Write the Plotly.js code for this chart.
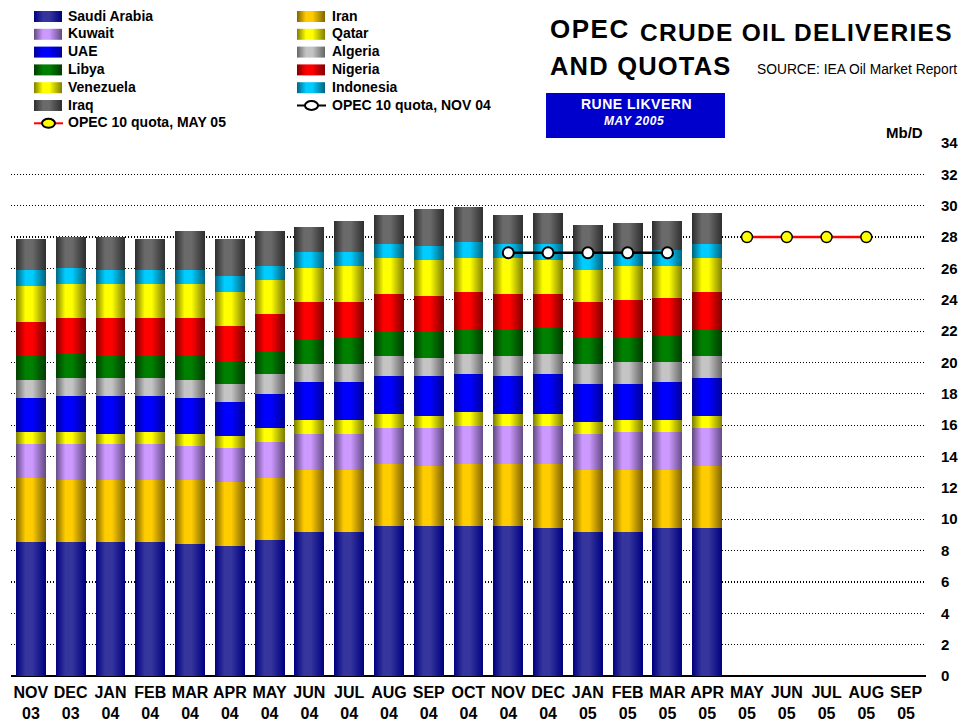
<!DOCTYPE html>
<html>
<head>
<meta charset="utf-8">
<script src="https://cdn.plot.ly/plotly-3.0.1.min.js"></script>
<style>
    body { margin: 0; background: #fff; }
    #chart { width: 973px; height: 724px; }
</style>
</head>
<body>
<div id="chart"></div>
<svg width="0" height="0" style="position:absolute"><defs id="gradDefs"></defs></svg>
<script>
// OPEC crude oil deliveries and quotas, Mb/D

const months = ['NOV','DEC','JAN','FEB','MAR','APR','MAY','JUN','JUL','AUG','SEP','OCT',
                'NOV','DEC','JAN','FEB','MAR','APR','MAY','JUN','JUL','AUG','SEP'];
const years  = ['03','03','04','04','04','04','04','04','04','04','04','04',
                '04','04','05','05','05','05','05','05','05','05','05'];

// deliveries NOV 03 - APR 05
const saudi     = [8.54, 8.54, 8.54, 8.54, 8.41, 8.28, 8.67, 9.18, 9.18, 9.56, 9.56, 9.56, 9.56, 9.43, 9.18, 9.18, 9.43, 9.43];
const iran      = [4.08, 3.96, 3.96, 3.96, 4.09, 4.09, 3.95, 3.96, 3.96, 3.96, 3.83, 3.96, 3.96, 4.09, 3.96, 3.96, 3.71, 3.96];
const kuwait    = [2.18, 2.30, 2.30, 2.30, 2.17, 2.17, 2.30, 2.29, 2.29, 2.30, 2.43, 2.42, 2.42, 2.42, 2.29, 2.42, 2.42, 2.43];
const qatar     = [0.76, 0.76, 0.63, 0.76, 0.76, 0.77, 0.90, 0.90, 0.90, 0.89, 0.76, 0.90, 0.77, 0.77, 0.77, 0.77, 0.77, 0.76];
const uae       = [2.17, 2.30, 2.43, 2.30, 2.30, 2.17, 2.17, 2.42, 2.42, 2.43, 2.56, 2.43, 2.43, 2.56, 2.43, 2.30, 2.42, 2.43];
const algeria   = [1.15, 1.15, 1.15, 1.15, 1.15, 1.15, 1.28, 1.15, 1.15, 1.27, 1.15, 1.27, 1.27, 1.27, 1.27, 1.40, 1.28, 1.40];
const libya     = [1.56, 1.53, 1.43, 1.43, 1.57, 1.42, 1.42, 1.56, 1.69, 1.56, 1.68, 1.56, 1.69, 1.68, 1.69, 1.56, 1.68, 1.69];
const nigeria   = [2.15, 2.30, 2.40, 2.40, 2.40, 2.28, 2.41, 2.40, 2.27, 2.40, 2.28, 2.40, 2.27, 2.15, 2.27, 2.40, 2.41, 2.40];
const venezuela = [2.30, 2.17, 2.17, 2.17, 2.18, 2.17, 2.17, 2.17, 2.30, 2.30, 2.30, 2.17, 2.30, 2.18, 2.05, 2.17, 2.04, 2.17];
const indonesia = [1.02, 1.02, 0.90, 0.90, 0.89, 1.02, 0.89, 1.03, 0.90, 0.90, 0.89, 1.02, 0.90, 1.02, 1.02, 0.90, 1.02, 0.90];
const iraq      = [1.98, 1.98, 2.10, 1.98, 2.49, 2.37, 2.24, 1.59, 1.98, 1.85, 2.36, 2.24, 1.85, 1.98, 1.85, 1.85, 1.86, 1.98];

// quotas (OPEC 10)
const quotaNov04Months = [12, 13, 14, 15, 16];
const quotaNov04 = [27.0, 27.0, 27.0, 27.0, 27.0];
const quotaMay05Months = [18, 19, 20, 21];
const quotaMay05 = [28.0, 28.0, 28.0, 28.0];

const seriesNames = ['Saudi Arabia','Iran','Kuwait','Qatar','UAE','Algeria',
                     'Libya','Nigeria','Venezuela','Indonesia','Iraq'];
const seriesValues = [saudi, iran, kuwait, qatar, uae, algeria, libya, nigeria, venezuela, indonesia, iraq];

// light (middle of the bar) and dark (edges) shades
const lightColors = ['#35359d','#ffcc00','#cc99ff','#ffff00','#0000ff','#c4c4c4',
                     '#008000','#ff0000','#ffff00','#00ccff','#6a6a6a'];
const darkColors  = ['#000080','#7f6400','#634a85','#7f7f00','#000099','#666666',
                     '#003c00','#800000','#7f7f00','#006480','#2e2e2e'];
const midColors   = ['#26268f','#e0b400','#b388e6','#e6e600','#0000e6','#aaaaaa',
                     '#007000','#e60000','#e6e600','#00b5e6','#575757'];

const FONT = 'Liberation Sans, Arial, sans-serif';

// plot area in pixels
const L = 11, T = 143, W = 915, H = 533;
function px(x) { return (x - L) / W; }
function py(y) { return (T + H - y) / H; }

const labels = months.map((m, i) => m + '<br>' + years[i]);

const traces = [];
seriesNames.forEach((name, i) => {
    traces.push({
        type: 'bar',
        name: name,
        x: labels.slice(0, seriesValues[i].length),
        y: seriesValues[i],
        marker: { color: midColors[i], line: { width: 0 } },
        hoverinfo: 'name+y'
    });
});

traces.push({
    type: 'scatter',
    mode: 'lines+markers',
    name: 'OPEC 10 quota, NOV 04',
    x: quotaNov04Months.map(i => labels[i]),
    y: quotaNov04,
    line: { color: '#000000', width: 2.5 },
    marker: { size: 11, color: '#ffffff', line: { color: '#000000', width: 2 } }
});
traces.push({
    type: 'scatter',
    mode: 'lines+markers',
    name: 'OPEC 10 quota, MAY 05',
    x: quotaMay05Months.map(i => labels[i]),
    y: quotaMay05,
    line: { color: '#ff0000', width: 2.5 },
    marker: { size: 11, color: '#ffff00', line: { color: '#000000', width: 1.5 } }
});

// legend built by hand: two columns, row by row
const shapes = [];
const annotations = [];
const swatchIndex = [];
const legendNames = seriesNames.concat(['OPEC 10 quota, NOV 04', 'OPEC 10 quota, MAY 05']);
const colX = [34, 297];
const textX = [67, 331];
legendNames.forEach((name, i) => {
    const row = Math.floor(i / 2);
    const col = i % 2;
    const cy = 16.5 + row * 17.8;
    if (i < seriesNames.length) {
        swatchIndex.push(shapes.length);
        shapes.push({
            type: 'rect', xref: 'paper', yref: 'paper',
            x0: px(colX[col]), x1: px(colX[col] + 28),
            y0: py(cy - 5.5), y1: py(cy + 5.5),
            fillcolor: midColors[i], line: { width: 0 }
        });
    } else {
        const q = traces[i];
        shapes.push({
            type: 'line', xref: 'paper', yref: 'paper',
            x0: px(colX[col]), x1: px(colX[col] + 29),
            y0: py(cy), y1: py(cy),
            line: { color: q.line.color, width: 2 }
        });
        shapes.push({
            type: 'circle', xref: 'paper', yref: 'paper',
            x0: px(colX[col] + 8), x1: px(colX[col] + 21),
            y0: py(cy - 4.5), y1: py(cy + 4.5),
            fillcolor: q.marker.color, line: { color: '#000000', width: 2 }
        });
    }
    annotations.push({
        xref: 'paper', yref: 'paper', x: px(textX[col] - 1), y: py(cy - 1),
        xanchor: 'left', yanchor: 'middle', showarrow: false,
        text: name,
        font: { family: FONT, size: 14, weight: 'bold', color: '#000' }
    });
});

// author box
shapes.push({
    type: 'rect', xref: 'paper', yref: 'paper',
    x0: px(546), x1: px(725), y0: py(93), y1: py(138),
    fillcolor: '#0000cc', line: { width: 0 }
});

function note(text, x, y, size, anchor, extra) {
    return Object.assign({
        xref: 'paper', yref: 'paper', x: px(x), y: py(y),
        xanchor: anchor, yanchor: 'middle', showarrow: false, text: text,
        font: { family: FONT, size: size, weight: 'bold', color: '#000' }
    }, extra || {});
}

annotations.push(note("<span style='letter-spacing:1.5px'>OPEC</span>", 548, 29, 26, 'left'));
annotations.push(note("<span style='letter-spacing:1.3px'>CRUDE OIL DELIVERIES</span>", 638, 33, 24.5, 'left'));
annotations.push(note("<span style='letter-spacing:1.2px'>AND QUOTAS</span>", 548, 66, 25.5, 'left'));
annotations.push(note('SOURCE: IEA Oil Market Report', 755, 70, 13.8, 'left',
    { font: { family: FONT, size: 13.8, weight: 'normal', color: '#000' } }));
annotations.push(note("<span style='letter-spacing:0.5px'>RUNE LIKVERN</span>", 636, 103.5, 14, 'center',
    { font: { family: FONT, size: 14, weight: 'bold', color: '#fff' } }));
annotations.push(note("<i><span style='letter-spacing:0.6px'>MAY 2005</span></i>", 634, 120.5, 12, 'center',
    { font: { family: FONT, size: 12, weight: 'bold', color: '#fff' } }));
annotations.push(note('Mb/D', 925, 132, 15, 'right'));

const layout = {
    width: 973,
    height: 724,
    margin: { l: L, r: 973 - L - W, t: T, b: 724 - T - H },
    paper_bgcolor: '#ffffff',
    plot_bgcolor: '#ffffff',
    barmode: 'stack',
    bargap: 0.25,
    showlegend: false,
    font: { family: FONT, color: '#000' },
    xaxis: {
        type: 'category',
        categoryorder: 'array',
        categoryarray: labels,
        range: [-0.5, labels.length - 0.5],
        showgrid: false,
        zeroline: false,
        showline: false,
        ticks: '',
        ticklabelstandoff: 5,
        tickfont: { family: FONT, size: 16, weight: 'bold', color: '#000' },
        tickangle: 0,
        fixedrange: true
    },
    yaxis: {
        side: 'right',
        range: [0, 34],
        dtick: 2,
        showgrid: true,
        gridcolor: '#000000',
        gridwidth: 1.2,
        griddash: '1.2px,1.8px',
        zeroline: true,
        zerolinecolor: '#000000',
        zerolinewidth: 2,
        ticks: '',
        ticklabelstandoff: 14,
        tickfont: { family: FONT, size: 15, weight: 'bold', color: '#000' },
        fixedrange: true
    },
    shapes: shapes,
    annotations: annotations
};

// horizontal shading like the original cylinder bars
function addGradient(id, dark, light) {
    const ns = 'http://www.w3.org/2000/svg';
    const g = document.createElementNS(ns, 'linearGradient');
    g.setAttribute('id', id);
    g.setAttribute('x1', '0'); g.setAttribute('x2', '1');
    g.setAttribute('y1', '0'); g.setAttribute('y2', '0');
    [[0, dark], [0.32, light], [0.55, light], [1, dark]].forEach(s => {
        const stop = document.createElementNS(ns, 'stop');
        stop.setAttribute('offset', s[0]);
        stop.setAttribute('stop-color', s[1]);
        g.appendChild(stop);
    });
    document.getElementById('gradDefs').appendChild(g);
}
seriesNames.forEach((n, i) => addGradient('grad' + i, darkColors[i], lightColors[i]));

Plotly.newPlot('chart', traces, layout, { displayModeBar: false, staticPlot: true }).then(function(gd) {
    const barTraces = gd.querySelectorAll('.barlayer .trace');
    barTraces.forEach(function(tr, i) {
        tr.querySelectorAll('path').forEach(function(p) {
            p.style.fill = 'url(#grad' + i + ')';
        });
    });
    swatchIndex.forEach(function(k, i) {
        gd.querySelectorAll('.shapelayer path[data-index="' + k + '"]').forEach(function(p) {
            p.style.fill = 'url(#grad' + i + ')';
        });
    });
});
</script>
</body>
</html>
